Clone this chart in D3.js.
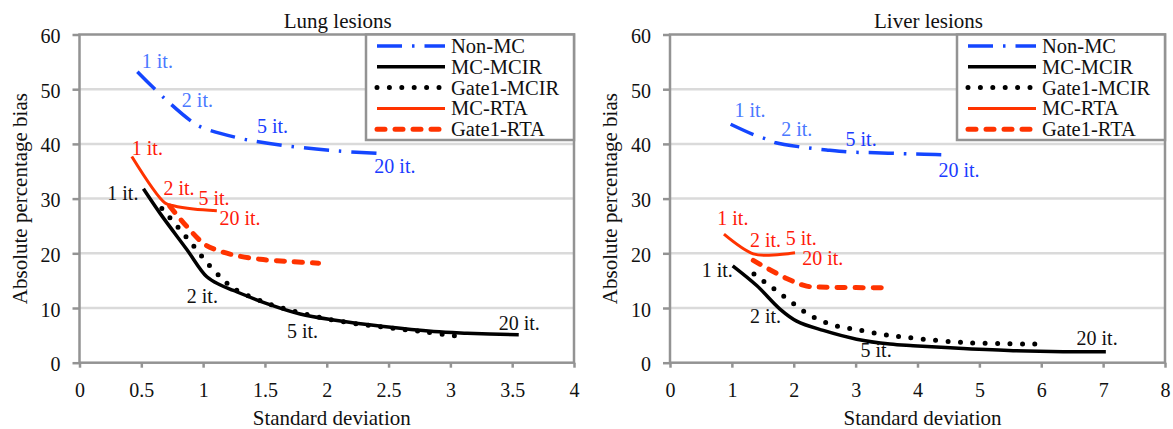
<!DOCTYPE html>
<html>
<head>
<meta charset="utf-8">
<script src="https://cdn.jsdelivr.net/npm/d3@7"></script>
<style>
  body { margin: 0; background: #fff; }
</style>
</head>
<body>
<div id="chart"></div>
<script>
// values: [standard deviation, absolute percentage bias]
const seriesNames = ["Non-MC", "MC-MCIR", "Gate1-MCIR", "MC-RTA", "Gate1-RTA"];
const yTicks = [0, 10, 20, 30, 40, 50, 60];
const lungXTicks = [0, 0.5, 1, 1.5, 2, 2.5, 3, 3.5, 4];
const liverXTicks = [0, 1, 2, 3, 4, 5, 6, 7, 8];

const lungNonMC = [[0.468, 53.2], [0.684, 48.4], [0.908, 44.1], [1.002, 42.9], [1.30, 41.0], [1.394, 40.6], [1.69, 39.6], [2.095, 38.7], [2.46, 38.2]];
const lungMCMCIR = [[0.517, 31.8], [0.652, 27.3], [0.868, 20.7], [1.03, 15.7], [1.14, 14.2], [1.245, 13.2], [1.516, 10.8], [1.785, 8.9], [2.055, 7.8], [2.46, 6.6], [2.865, 5.7], [3.135, 5.4], [3.553, 5.1]];
const lungGateMCIR = [[0.666, 28.2], [0.792, 24.9], [0.917, 21.5], [1.038, 18.1], [1.17, 15.0], [1.245, 13.6], [1.516, 10.9], [1.785, 9.1], [2.1, 7.6], [2.5, 6.4], [2.8, 5.6], [3.04, 4.9]];
const lungMCRTA = [[0.423, 37.7], [0.692, 29.2], [0.76, 28.7], [0.921, 28.1], [1.111, 27.8]];
const lungGateRTA = [[0.73, 28.6], [1.002, 21.8], [1.111, 20.6], [1.245, 19.7], [1.462, 18.9], [1.704, 18.5], [1.934, 18.2]];

const liverNonMC = [[0.98, 43.6], [1.35, 41.7], [1.55, 40.9], [1.71, 40.2], [2.14, 39.4], [2.53, 38.9], [2.93, 38.5], [3.32, 38.4], [3.78, 38.2], [4.11, 38.1], [4.54, 38.0]];
const liverMCMCIR = [[1.013, 17.7], [1.401, 14.1], [1.777, 9.8], [2.047, 7.6], [2.477, 5.9], [3.016, 4.3], [3.554, 3.4], [3.93, 3.1], [4.738, 2.6], [5.546, 2.2], [6.354, 2.0], [7.044, 2.0]];
const liverGateMCIR = [[1.357, 16.2], [1.669, 13.6], [1.982, 10.9], [2.305, 8.4], [2.666, 6.8], [3.042, 6.0], [3.42, 5.2], [3.607, 4.9], [4.738, 3.7], [5.924, 3.4]];
const liverMCRTA = [[0.872, 23.5], [1.346, 19.9], [1.669, 19.7], [2.02, 20.1]];
const liverGateRTA = [[1.346, 18.7], [1.885, 15.4], [2.208, 14.0], [2.531, 13.8], [3.55, 13.7]];

// iteration annotations: [text, x, y, tone]
const lungLabels = [
  ["1 it.", 0.504, 53.9, "blueLight"], ["2 it.", 0.828, 46.8, "blueLight"],
  ["5 it.", 1.435, 42.0, "blue"], ["20 it.", 2.385, 34.6, "blue"],
  ["1 it.", 0.423, 38.0, "red"], ["2 it.", 0.679, 30.7, "red"],
  ["5 it.", 0.962, 28.8, "red"], ["20 it.", 1.132, 25.2, "red"],
  ["1 it.", 0.225, 29.8, "black"], ["2 it.", 0.868, 10.9, "black"],
  ["5 it.", 1.678, 4.5, "black"], ["20 it.", 3.391, 6.0, "black"]
];
const liverLabels = [
  ["1 it.", 1.041, 44.9, "blueLight"], ["2 it.", 1.798, 41.4, "blueLight"],
  ["5 it.", 2.837, 39.7, "blue"], ["20 it.", 4.338, 33.9, "blue"],
  ["1 it.", 0.764, 25.2, "red"], ["2 it.", 1.292, 21.2, "red"],
  ["5 it.", 1.869, 21.5, "red"], ["20 it.", 2.137, 17.9, "red"],
  ["1 it.", 0.512, 15.7, "black"], ["2 it.", 1.292, 7.3, "black"],
  ["5 it.", 3.08, 1.1, "black"], ["20 it.", 6.57, 3.2, "black"]
];

const toneColor = { blueLight: "#4a78ff", blue: "#1a3cff", red: "#ff1a0a", black: "#111" };

const styles = {
  "Non-MC":     { color: "#1446ff", width: 3.5, dash: "25,10,2.5,10", cap: "butt" },
  "MC-MCIR":    { color: "#000",    width: 3.5, dash: null, cap: "butt" },
  "Gate1-MCIR": { color: "#000",    width: 5,   dash: "0,12.4", cap: "round" },
  "MC-RTA":     { color: "#ff3300", width: 3,   dash: null, cap: "butt" },
  "Gate1-RTA":  { color: "#ff3300", width: 5,   dash: "8,10", cap: "round" }
};

const fontStack = "'Liberation Serif', 'Times New Roman', serif";
const width = 1173, height = 429;
const plotTop = 34.5, plotH = 328.2;
const frameColor = "#939393";

const svg = d3.select("#chart").append("svg")
  .attr("width", width)
  .attr("height", height)
  .attr("font-family", fontStack);

function drawPanel(cfg) {
  const plotW = cfg.right - cfg.left;
  const g = svg.append("g").attr("transform", `translate(${cfg.left},${plotTop})`);

  const x = d3.scaleLinear().domain([0, cfg.xMax]).range([0, plotW]);
  const y = d3.scaleLinear().domain([0, 60]).range([plotH, 0]);

  // grid
  g.append("g").selectAll("line")
    .data(yTicks.filter(d => d > 0 && d < 60))
    .enter().append("line")
    .attr("x1", 0).attr("x2", plotW)
    .attr("y1", d => y(d)).attr("y2", d => y(d))
    .attr("stroke", "#dadada").attr("stroke-width", 2.5);

  const xAxis = g.append("g")
    .attr("transform", `translate(0,${plotH})`)
    .call(d3.axisBottom(x).tickValues(cfg.xTicks).tickSize(5).tickPadding(15).tickFormat(d3.format("")));
  const yAxis = g.append("g")
    .call(d3.axisLeft(y).tickValues(yTicks).tickSize(7).tickPadding(12));

  [xAxis, yAxis].forEach(a => {
    a.attr("font-family", fontStack).attr("font-size", 20);
    a.select(".domain").remove();
    a.selectAll(".tick line").attr("stroke", frameColor).attr("stroke-width", 2.5);
    a.selectAll(".tick text").attr("fill", "#111");
  });
  yAxis.selectAll(".tick text").attr("dy", "0.4em");

  // frame
  g.append("rect")
    .attr("x", 0).attr("y", 0)
    .attr("width", plotW).attr("height", plotH)
    .attr("fill", "none")
    .attr("stroke", frameColor).attr("stroke-width", 2.5);

  const line = d3.line()
    .x(d => x(d[0]))
    .y(d => y(d[1]))
    .curve(d3.curveCatmullRom.alpha(0.5));

  seriesNames.forEach(name => {
    const s = styles[name];
    g.append("path")
      .datum(cfg.series[name])
      .attr("d", line)
      .attr("fill", "none")
      .attr("stroke", s.color)
      .attr("stroke-width", s.width)
      .attr("stroke-linecap", s.cap)
      .attr("stroke-linejoin", "round")
      .attr("stroke-dasharray", s.dash);
  });

  g.append("g").selectAll("text")
    .data(cfg.labels)
    .enter().append("text")
    .attr("x", d => x(d[1]))
    .attr("y", d => y(d[2]))
    .attr("font-size", 20)
    .attr("fill", d => toneColor[d[3]])
    .text(d => d[0]);

  // legend
  const lg = g.append("g").attr("transform", `translate(${plotW - 208},0)`);
  lg.append("rect")
    .attr("width", 208).attr("height", 105.5)
    .attr("fill", "#fff")
    .attr("stroke", frameColor).attr("stroke-width", 2.5);
  seriesNames.forEach((name, i) => {
    const s = styles[name];
    const ry = 11.5 + i * 20.8;
    lg.append("line")
      .attr("x1", 11).attr("x2", 79)
      .attr("y1", ry).attr("y2", ry)
      .attr("stroke", s.color)
      .attr("stroke-width", s.width)
      .attr("stroke-linecap", s.cap)
      .attr("stroke-dasharray", s.dash);
    lg.append("text")
      .attr("x", 85).attr("y", ry + 7)
      .attr("font-size", 20.5)
      .attr("fill", "#111")
      .text(name);
  });

  g.append("text")
    .attr("x", plotW / 2 + 11).attr("y", -6.5)
    .attr("text-anchor", "middle")
    .attr("font-size", 21)
    .attr("fill", "#111")
    .text(cfg.title);

  g.append("text")
    .attr("x", plotW / 2 + 5).attr("y", 390.5)
    .attr("text-anchor", "middle")
    .attr("font-size", 21)
    .attr("fill", "#111")
    .text("Standard deviation");

  g.append("text")
    .attr("transform", `translate(-53,${plotH / 2}) rotate(-90)`)
    .attr("text-anchor", "middle")
    .attr("font-size", 21)
    .attr("fill", "#111")
    .text("Absolute percentage bias");
}

drawPanel({
  left: 79.5, right: 574, xMax: 4, xTicks: lungXTicks, title: "Lung lesions",
  series: { "Non-MC": lungNonMC, "MC-MCIR": lungMCMCIR, "Gate1-MCIR": lungGateMCIR, "MC-RTA": lungMCRTA, "Gate1-RTA": lungGateRTA },
  labels: lungLabels
});

drawPanel({
  left: 670, right: 1165, xMax: 8, xTicks: liverXTicks, title: "Liver lesions",
  series: { "Non-MC": liverNonMC, "MC-MCIR": liverMCMCIR, "Gate1-MCIR": liverGateMCIR, "MC-RTA": liverMCRTA, "Gate1-RTA": liverGateRTA },
  labels: liverLabels
});
</script>
</body>
</html>
